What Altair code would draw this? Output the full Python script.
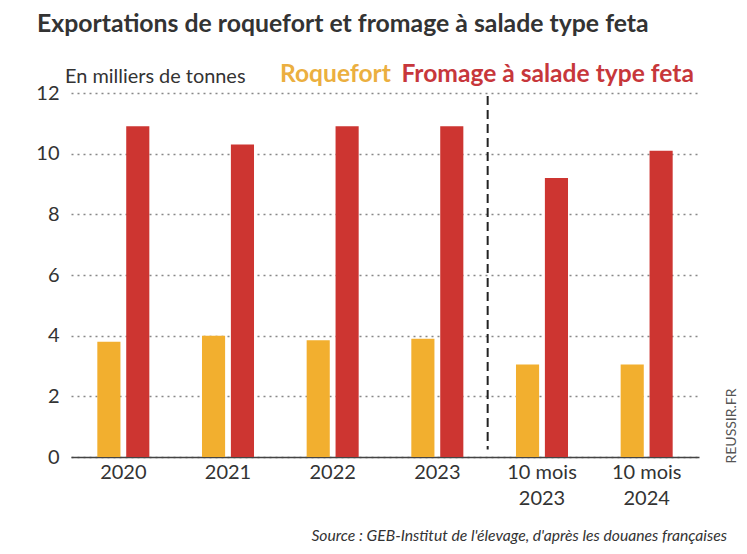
import altair as alt
import pandas as pd

# ---- data ----
categories = ["2020", "2021", "2022", "2023", "10 mois 2023", "10 mois 2024"]
series = ["Roquefort", "Fromage à salade type feta"]
roquefort = [3.8, 4.0, 3.85, 3.9, 3.05, 3.05]
feta = [10.9, 10.3, 10.9, 10.9, 9.2, 10.1]
y_ticks = [0, 2, 4, 6, 8, 10, 12]

title_text = "Exportations de roquefort et fromage à salade type feta"
unit_text = "En milliers de tonnes"
source_text = "Source : GEB-Institut de l'élevage, d'après les douanes françaises"
credit_text = "REUSSIR.FR"

divider_after = ["2023"]
divider_span = [11.9, 0.25]

# ---- styling ----
FONT = "Lato"
COL_ROQ = "#F2AF2F"
COL_FETA = "#CD3531"
TXT = "#333333"
W, H = 628, 364
STEP = W / len(categories)

rows = []
for c, r, f in zip(categories, roquefort, feta):
    rows.append({"cat": c, "series": series[0], "value": r})
    rows.append({"cat": c, "series": series[1], "value": f})
df = pd.DataFrame(rows)

x_scale = alt.Scale(domain=categories, paddingInner=0.503, paddingOuter=0.2515)
y_scale = alt.Scale(domain=[0, 12], nice=False)

bars = alt.Chart(df).mark_bar().encode(
    x=alt.X("cat:N", scale=x_scale, sort=categories,
            axis=alt.Axis(title=None, labelAngle=0, ticks=False, domain=True,
                          domainColor="#444444", domainWidth=1.5,
                          labelFont=FONT, labelFontSize=20, labelColor=TXT,
                          labelPadding=5, labelLineHeight=26,
                          labelExpr="indexof(datum.label, 'mois') > 0 ? [slice(datum.label, 0, 7), slice(datum.label, 8)] : datum.label")),
    xOffset=alt.XOffset("series:N", sort=series,
                        scale=alt.Scale(domain=series, paddingInner=0.2, paddingOuter=0)),
    y=alt.Y("value:Q", scale=y_scale,
            axis=alt.Axis(title=None, values=y_ticks, grid=True, gridDash=[2, 4],
                          gridColor="#888888", gridWidth=1.5, domain=False, ticks=False,
                          labelFont=FONT, labelFontSize=20, labelColor=TXT,
                          labelPadding=12)),
    color=alt.Color("series:N", scale=alt.Scale(domain=series, range=[COL_ROQ, COL_FETA]),
                    legend=None),
)

div_df = pd.DataFrame({"cat": divider_after, "y": [divider_span[0]], "y2": [divider_span[1]]})
divider = alt.Chart(div_df).mark_rule(strokeDash=[9, 5], strokeWidth=2, color="#222222",
                                      xOffset=STEP / 2 - 2).encode(
    x=alt.X("cat:N", scale=x_scale, sort=categories),
    y=alt.Y("y:Q", scale=y_scale),
    y2="y2:Q",
)


def label(text, x, y, **kw):
    return alt.Chart(pd.DataFrame({"t": [text]})).mark_text(font=FONT, **kw).encode(
        text="t:N", x=alt.value(x), y=alt.value(y))


title = label(title_text, -34, -61, fontSize=24.8, fontWeight="bold", color=TXT,
              align="left", baseline="alphabetic")
unit = label(unit_text, -6, -10, fontSize=19.9, color=TXT, align="left",
             baseline="alphabetic")
leg1 = label(series[0], 209, -11, fontSize=24.6, fontWeight="bold", color="#EBAF40",
             align="left", baseline="alphabetic")
leg2 = label(series[1], 623, -11, fontSize=24.6, fontWeight="bold", color="#C7373B",
             align="right", baseline="alphabetic")
source = label(source_text, 656, 448, fontSize=15.7, fontStyle="italic", color=TXT,
               align="right", baseline="alphabetic")
credit = label(credit_text, 661, 333, fontSize=14, color="#555555", angle=270,
               align="center", baseline="middle")

chart = alt.layer(bars, divider, title, unit, leg1, leg2, source, credit).properties(
    width=W, height=H,
    autosize=alt.AutoSizeParams(type="none"),
    padding={"left": 63, "top": 85, "right": 40, "bottom": 87},
).configure_view(stroke=None)

chart.save("out.html", embed_options={"renderer": "svg", "actions": False})
